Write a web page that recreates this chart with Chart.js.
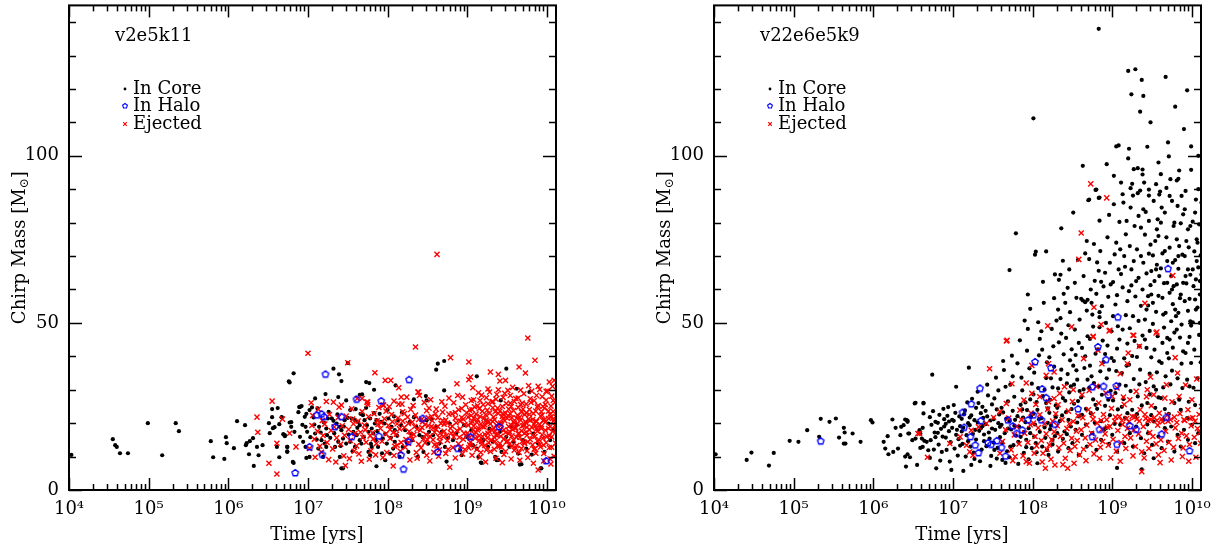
<!DOCTYPE html>
<html>
<head>
<meta charset="utf-8">
<script src="https://cdn.jsdelivr.net/npm/chart.js@4.4.0/dist/chart.umd.min.js"></script>
<style>
  html, body { margin: 0; padding: 0; background: #fff; width: 1217px; height: 548px; overflow: hidden; }
  .panel { position: absolute; top: 0; width: 572px; height: 548px; }
</style>
</head>
<body>
<div class="panel" style="left:0"><canvas id="left" width="572" height="548"></canvas></div>
<div class="panel" style="left:645px"><canvas id="right" width="572" height="548"></canvas></div>
<script>
// tick values / labels
const xTickValues = [1e4, 1e5, 1e6, 1e7, 1e8, 1e9, 1e10];
const xTickLabels = ['10⁴', '10⁵', '10⁶', '10⁷', '10⁸', '10⁹', '10¹⁰'];
const yTickValues = [0, 50, 100];
const legendNames = ['In Core', 'In Halo', 'Ejected'];

// points are [log10(time / yrs), chirp mass]
const leftCore = [
  [4.03,10.5],[4.55,15.2],[4.58,13.4],[4.60,12.9],[4.64,11.0],[4.74,11.0],[4.99,20.0],[5.17,10.4],[5.34,20.0],[5.38,17.6],
  [5.78,14.6],[5.81,9.8],[5.95,9.3],[5.97,15.8],[5.98,14.0],[6.07,12.5],[6.11,20.6],[6.21,19.4],[6.22,13.4],[6.23,14.0],
  [6.27,14.6],[6.26,10.7],[6.31,15.5],[6.32,7.2],[6.36,12.9],[6.38,10.4],[6.43,13.4],[6.51,20.0],[6.52,17.0],[6.55,24.2],
  [6.55,21.8],[6.56,18.5],[6.58,18.8],[6.62,24.5],[6.61,12.9],[6.64,19.7],[6.64,9.8],[6.67,21.8],[6.69,16.7],[6.71,16.1],
  [6.74,11.6],[6.74,12.9],[6.79,20.3],[6.77,32.2],[6.81,8.4],[6.88,23.3],[6.89,24.8],[6.76,32.5],[6.82,34.9],
  [7.50,38.0],[7.32,36.3],[7.39,34.6],[7.42,32.6],[7.22,28.7],[7.09,27.4],[7.38,27.8],[7.48,26.8],[7.65,28.5],[7.68,28.6],
  [7.73,32.3],[7.77,32.0],[7.83,30.0],[8.10,31.3],[8.61,36.0],[8.63,37.8],[8.71,38.6],[8.71,29.8],[9.12,34.0],[9.49,36.3],
  [9.62,30.3],[9.78,29.3],[9.42,26.8],[8.33,27.1],[8.48,28.1],[8.49,26.8],[6.90,24.9],[7.42,6.5],[7.86,7.1],[9.18,8.1],
  [9.66,7.6],[9.92,6.5],[9.37,8.9],[8.38,9.9],[8.15,9.9],[8.74,8.5],[9.17,8.2],[9.39,9.0],[9.68,7.7],[9.93,6.5],
  [6.67,21.7],[6.71,16.4],[6.74,12.9],[6.74,11.4],[6.77,20.2],[6.82,8.1],[6.79,18.9],[6.83,17.4],
  [6.90,24.9],[6.92,25.1],[6.96,21.9],[6.97,18.9],[6.99,17.4],[7.02,23.9],[7.05,24.7],[7.02,9.9],[6.98,9.6],[6.94,14.4],[6.97,12.9],[6.90,15.9],
  [7.07,21.7],[7.14,18.9],[7.09,16.9],[7.11,15.1],[7.17,14.9],[7.21,13.9],[7.24,16.4],[7.23,18.4],[7.25,21.4],[7.19,9.9],[7.23,12.9],[7.13,12.4],
  [7.30,21.4],[7.32,20.7],[7.36,19.9],[7.40,18.9],[7.42,17.9],[7.44,15.4],[7.38,14.4],[7.34,12.9],[7.46,20.9],[7.40,9.9],[7.44,6.5],[7.48,13.9],
  [7.53,23.9],[7.55,21.4],[7.59,20.9],[7.63,20.4],[7.65,19.4],[7.57,17.4],[7.61,16.4],[7.65,14.9],[7.67,13.9],[7.53,14.4],[7.59,12.9],[7.69,22.4],
  [7.71,20.9],[7.74,19.4],[7.78,21.4],[7.80,18.4],[7.84,19.9],[7.86,20.9],[7.82,16.9],[7.85,14.9],[7.80,12.9],[7.76,11.4],[7.88,12.9],[7.78,10.4],
  [7.92,20.4],[7.96,19.9],[8.01,21.4],[8.05,18.9],[8.09,17.9],[7.94,15.4],[7.99,13.9],[8.07,12.4],[8.09,14.4],[8.03,10.9],[7.97,8.9],
  [8.13,20.9],[8.17,19.4],[8.22,17.9],[8.28,20.4],[8.30,16.9],[8.19,12.9],[8.26,11.4],[8.31,14.9],
  [8.36,18.9],[8.40,16.4],[8.49,20.9],[8.51,13.9],[8.45,11.4],[8.52,17.4],
  [8.57,16.4],[8.65,13.9],[8.72,12.9],[8.61,18.9],[8.68,17.4],
  [8.82,14.9],[8.91,11.9],[8.78,19.9],[8.86,16.9],[8.93,10.4],
  [8.99,15.9],[9.07,13.4],[9.12,12.4],[9.14,9.9],[9.05,17.9],
  [9.20,14.9],[9.26,12.9],[9.32,14.4],[9.28,18.4],[9.35,9.9],
  [9.43,11.4],[9.49,15.9],[9.53,12.9],[9.41,17.4],[9.55,18.9],
  [9.64,10.9],[9.70,14.9],[9.74,12.4],[9.62,19.4],
  [9.83,16.9],[9.89,13.9],[9.97,11.4],[10.04,14.9],[10.08,17.9],[10.02,19.9],
  [6.93,19.5],[6.98,22.8],[7.03,15.8],[7.08,19.6],[7.12,24.4],[7.16,17.2],[7.20,20.2],[7.26,23.4],[7.28,15.6],[7.33,17.0],
  [7.37,22.6],[7.41,13.2],[7.45,19.0],[7.50,21.6],[7.51,16.6],[7.56,11.6],[7.60,24.2],[7.62,18.6],[7.66,22.8],[7.70,15.8],
  [7.73,24.6],[7.76,17.4],[7.79,13.8],[7.83,23.0],[7.87,17.6],[7.90,22.8],[7.93,11.0],[7.97,16.8],[8.00,24.0],[8.04,15.6],
  [8.08,22.0],[8.12,16.2],[8.18,23.2],[8.24,14.2],[8.33,21.8],[8.44,15.8],[8.55,21.2],[8.76,15.6],[8.96,19.4],[9.24,20.8],
  [9.58,14.4],[9.81,10.6]
];
const leftHalo = [
  [6.84,5.1],[7.22,34.6],[7.18,10.6],[7.02,12.9],[7.11,22.4],[7.17,22.7],[7.20,21.9],[7.42,21.9],[7.34,18.9],[7.55,15.9],
  [7.61,27.1],[7.92,26.6],[7.89,16.1],[8.27,33.0],[8.26,14.4],[8.17,10.4],[8.20,6.2],[8.44,21.4],[8.63,11.4],[8.88,12.4],
  [9.04,15.9],[9.40,18.9],[9.99,8.7]
];
const leftEjected = [
  [6.36,21.8],[6.37,17.3],[6.55,26.6],[6.51,8.0],[6.61,4.8],[6.61,14.0],[6.68,21.2],[6.77,17.0],[6.85,12.9],[7.00,40.9],
  [8.62,70.5],[7.50,38.1],[8.14,25.7],[7.94,25.4],[7.68,27.4],[7.75,26.3],[8.39,29.3],
  [7.02,12.4],[7.05,19.3],[7.08,15.2],[7.04,26.1],[7.09,9.8],[7.06,22.3],
  [7.12,17.6],[7.15,13.1],[7.18,20.8],[7.13,24.2],[7.17,11.3],[7.19,16.3],
  [7.21,19.7],[7.24,14.2],[7.27,22.6],[7.26,9.1],[7.29,17.8],[7.23,26.5],
  [7.31,12.3],[7.33,18.9],[7.36,15.6],[7.38,21.7],[7.35,8.4],[7.39,24.8],[7.32,26.3],
  [7.41,13.7],[7.43,19.2],[7.46,16.4],[7.48,22.1],[7.45,10.2],[7.47,7.3],[7.42,25.4],
  [7.51,18.1],[7.53,14.8],[7.56,21.2],[7.58,11.6],[7.55,24.3],[7.59,16.9],[7.52,9.4],[7.57,19.8],
  [7.61,13.2],[7.63,20.6],[7.66,17.3],[7.68,23.5],[7.64,10.8],[7.69,15.7],[7.62,27.4],[7.67,8.6],
  [7.71,19.4],[7.73,14.3],[7.76,21.9],[7.78,16.2],[7.75,25.6],[7.79,11.7],[7.72,18.0],[7.77,9.2],[7.74,26.3],
  [7.81,17.1],[7.83,22.8],[7.86,13.9],[7.88,19.6],[7.85,10.5],[7.89,24.7],[7.82,15.3],[7.87,20.7],[7.84,35.1],
  [7.91,18.4],[7.93,14.6],[7.96,21.3],[7.98,16.8],[7.95,25.4],[7.99,11.2],[7.92,20.1],[7.97,32.8],[7.94,9.7],[7.98,23.6],
  [8.01,19.3],[8.03,15.4],[8.05,22.6],[8.07,17.2],[8.09,13.1],[8.02,24.9],[8.06,20.4],[8.08,10.3],[8.04,32.8],[8.08,26.6],[8.07,7.2],[8.03,18.1],
  [8.11,16.7],[8.13,21.5],[8.15,18.3],[8.17,14.2],[8.19,23.4],[8.12,19.8],[8.16,11.6],[8.18,25.7],[8.14,30.6],[8.19,20.6],[8.12,13.4],[8.17,27.8],
  [8.21,18.7],[8.23,15.1],[8.25,21.8],[8.27,17.5],[8.29,24.1],[8.22,12.8],[8.26,19.9],[8.28,9.0],[8.24,27.8],[8.29,16.2],[8.21,22.9],[8.26,14.0],
  [8.31,20.3],[8.33,16.6],[8.35,22.4],[8.37,18.2],[8.39,13.7],[8.32,25.3],[8.36,11.2],[8.38,29.3],[8.35,42.8],[8.34,19.0],[8.39,21.1],[8.31,15.2],[8.37,9.5],
  [8.41,17.9],[8.43,21.2],[8.45,15.3],[8.47,19.5],[8.49,23.7],[8.42,12.6],[8.46,26.2],[8.48,16.6],[8.40,28.3],[8.44,20.4],[8.49,10.4],[8.43,18.7],[8.47,14.1],
  [8.51,19.2],[8.53,16.1],[8.55,22.0],[8.57,18.6],[8.59,13.5],[8.52,24.5],[8.56,20.7],[8.58,11.3],[8.54,27.0],[8.59,17.3],[8.51,21.6],[8.57,15.0],[8.53,8.7],
  [8.61,18.1],[8.63,21.6],[8.65,15.7],[8.67,19.9],[8.69,23.3],[8.62,13.2],[8.66,17.0],[8.68,26.4],[8.64,10.1],[8.69,20.8],[8.61,24.2],[8.66,14.5],[8.63,19.0],
  [8.71,17.6],[8.73,20.9],[8.75,14.8],[8.77,22.7],[8.79,18.4],[8.72,25.1],[8.76,12.2],[8.78,6.8],[8.79,39.6],[8.74,16.3],[8.71,19.7],[8.77,27.5],[8.73,10.9],
  [8.81,19.1],[8.83,15.9],[8.85,21.5],[8.87,17.8],[8.89,24.0],[8.82,12.7],[8.86,20.1],[8.88,28.3],[8.87,31.8],[8.84,16.9],[8.89,13.8],[8.81,22.8],[8.85,9.6],[8.83,26.1],
  [8.91,18.3],[8.93,21.7],[8.94,27.8],[8.95,15.2],[8.97,19.6],[8.99,23.1],[8.92,13.0],[8.96,17.0],[8.98,25.5],[8.94,10.8],[8.99,16.1],[8.91,20.6],[8.97,12.1],[8.93,24.4],
  [9.01,19.4],[9.02,33.0],[9.04,33.8],[9.02,38.3],[9.03,15.8],[9.05,22.3],[9.07,18.0],[9.09,24.9],[9.02,12.6],[9.06,20.6],[9.08,27.0],[9.05,26.8],[9.07,30.6],[9.04,14.3],[9.09,16.7],[9.01,21.8],[9.06,10.4],[9.08,19.1],[9.03,23.9],[9.09,12.9],
  [9.11,17.3],[9.13,21.0],[9.15,14.8],[9.16,26.8],[9.17,19.8],[9.19,23.6],[9.12,12.1],[9.14,18.5],[9.18,28.4],[9.13,25.2],[9.19,16.0],[9.11,22.7],[9.16,9.8],[9.18,13.6],[9.12,20.2],[9.15,24.3],[9.17,11.2],[9.14,29.1],[9.19,19.0],
  [9.21,18.9],[9.23,22.5],[9.25,15.6],[9.27,20.3],[9.28,29.3],[9.29,35.3],[9.22,13.3],[9.26,25.8],[9.28,17.4],[9.24,27.6],[9.29,11.5],[9.21,21.4],[9.25,23.9],[9.27,14.1],[9.23,8.4],[9.29,19.8],[9.22,16.7],[9.26,30.2],[9.24,20.9],
  [9.31,17.9],[9.33,21.8],[9.35,14.5],[9.37,19.3],[9.39,34.6],[9.39,30.0],[9.32,24.6],[9.36,27.2],[9.38,16.4],[9.34,12.2],[9.39,22.9],[9.31,26.3],[9.36,9.5],[9.33,18.6],[9.38,13.2],[9.35,23.4],[9.37,28.6],[9.32,20.5],[9.34,15.7],[9.39,19.9],
  [9.41,32.6],[9.42,18.2],[9.44,22.0],[9.46,15.3],[9.48,32.8],[9.47,20.7],[9.49,25.9],[9.43,12.8],[9.45,27.7],[9.48,17.2],[9.41,23.6],[9.46,10.6],[9.49,14.4],[9.43,19.5],[9.45,21.3],[9.47,28.9],[9.42,16.1],[9.44,8.2],[9.48,23.0],[9.41,13.9],
  [9.51,29.8],[9.52,19.0],[9.54,22.8],[9.56,16.2],[9.58,20.4],[9.59,26.5],[9.53,13.7],[9.55,25.0],[9.57,18.1],[9.51,14.6],[9.59,11.9],[9.54,28.3],[9.56,21.6],[9.58,15.0],[9.52,24.2],[9.55,9.3],[9.57,30.7],[9.53,17.5],[9.59,20.0],[9.51,22.2],
  [9.61,18.6],[9.63,22.4],[9.65,36.8],[9.66,15.8],[9.67,20.9],[9.69,26.0],[9.62,13.3],[9.64,24.7],[9.68,17.7],[9.61,27.4],[9.65,11.2],[9.69,14.5],[9.63,19.9],[9.67,29.9],[9.62,21.5],[9.66,8.9],[9.68,23.3],[9.64,16.8],[9.69,19.2],[9.61,12.6],[9.67,25.6],
  [9.71,19.3],[9.73,35.0],[9.74,23.0],[9.75,16.4],[9.76,45.5],[9.77,21.2],[9.79,27.3],[9.72,13.9],[9.74,25.7],[9.78,18.0],[9.71,28.8],[9.75,11.7],[9.79,15.1],[9.73,20.4],[9.77,31.2],[9.72,22.6],[9.76,9.7],[9.78,24.1],[9.74,17.3],[9.79,20.8],[9.71,14.2],
  [9.81,18.8],[9.83,22.9],[9.85,38.8],[9.85,16.0],[9.87,28.3],[9.87,20.5],[9.89,25.3],[9.82,13.5],[9.84,26.7],[9.88,17.6],[9.81,29.6],[9.86,11.0],[9.89,6.0],[9.83,8.0],[9.88,14.7],[9.84,19.7],[9.86,23.6],[9.82,21.1],[9.89,31.0],[9.85,12.4],[9.87,18.3],
  [9.91,19.6],[9.93,23.4],[9.95,15.5],[9.97,21.0],[9.99,26.9],[9.92,12.9],[9.94,27.9],[9.98,17.9],[9.91,30.1],[9.96,10.9],[9.99,14.2],[9.93,18.4],[9.97,24.5],[9.92,22.1],[9.96,8.7],[9.98,20.3],[9.94,16.5],[9.99,29.5],[9.91,13.6],[9.95,25.0],
  [10.01,29.6],[10.03,32.3],[10.09,32.8],[10.02,18.4],[10.04,22.7],[10.06,15.9],[10.08,20.6],[10.10,26.2],[10.03,12.7],[10.05,25.1],[10.07,17.5],[10.09,10.1],[10.11,14.0],[10.02,21.4],[10.06,28.1],[10.08,23.5],[10.04,9.3],[10.10,19.3],[10.03,16.2],[10.07,31.0],[10.11,22.0],[10.05,7.8],
  [9.00,17.0],[9.03,13.5],[9.06,24.0],[9.08,21.5],[9.10,15.5],[9.13,18.0],[9.16,22.0],[9.18,14.5],[9.20,25.5],[9.22,19.5],
  [9.24,12.0],[9.26,17.0],[9.28,23.0],[9.30,15.0],[9.32,26.5],[9.34,21.0],[9.36,16.5],[9.38,24.5],[9.40,13.0],[9.42,20.0],
  [9.44,25.0],[9.46,18.0],[9.48,11.5],[9.50,21.5],[9.52,16.8],[9.54,26.0],[9.56,13.2],[9.58,23.8],[9.60,18.4],[9.62,15.8],
  [9.64,27.5],[9.66,21.8],[9.68,12.4],[9.70,24.2],[9.72,17.0],[9.74,20.0],[9.76,14.4],[9.78,22.6],[9.80,26.2],[9.82,16.4],
  [9.84,12.2],[9.86,20.6],[9.88,24.8],[9.90,15.0],[9.92,18.8],[9.94,22.4],[9.96,13.4],[9.98,25.6],[10.00,16.0],[10.02,23.6],
  [10.04,19.0],[10.06,12.8],[10.08,26.8],[10.10,21.0],[10.12,18.0],[9.05,20.0],[9.15,16.2],[9.25,20.4],[9.35,17.6],[9.45,22.8],
  [9.55,19.4],[9.65,17.0],[9.75,18.8],[9.85,19.0],[9.95,20.8],[10.05,21.8],
  [8.50,15.0],[8.55,19.0],[8.60,22.8],[8.65,12.0],[8.70,16.0],[8.75,20.0],[8.80,17.0],[8.85,23.2],[8.90,15.8],[8.95,21.2]
];

const rightCore = [
  [4.02,10.7],[4.41,9.0],[4.47,11.2],[4.69,7.3],[4.75,11.1],[4.95,14.7],[5.06,14.4],[5.17,17.9],[5.32,15.9],[5.34,21.3],
  [5.45,20.4],[5.53,21.4],[5.57,15.7],[5.63,18.6],[5.64,17.2],[5.63,13.9],[5.65,13.9],[5.74,16.9],[5.84,14.4],[5.97,20.9],
  [5.99,20.2],[6.13,14.4],[6.15,12.4],[6.19,10.7],[6.18,16.1],[6.24,21.1],[6.25,11.4],[6.28,18.6],[6.31,12.4],[6.34,16.4],
  [6.38,19.4],[6.42,20.9],[6.43,20.4],[6.44,16.9],[6.43,10.7],[6.46,9.8],[6.41,7.0],[6.49,14.9],[6.52,25.9],[6.55,7.5],
  [6.59,16.9],[6.62,18.6],[6.63,22.9],[6.63,25.9],[6.61,15.4],[6.64,14.7],[6.62,12.9],[6.59,12.6],[6.67,14.4],[6.69,11.9],
  [6.40,21.1],[6.43,20.7],[6.35,18.9],[6.45,16.9],[6.40,10.0],[6.53,26.1],[6.63,26.1],[6.58,17.9],[6.53,15.4],
  [8.83,138.0],[9.20,125.4],[9.29,125.9],[9.37,122.7],[9.67,123.6],[9.24,118.4],[9.39,117.9],[9.94,119.6],[9.35,113.2],[9.79,114.7],
  [8.01,111.2],[9.05,102.8],[9.08,103.1],[9.21,102.1],[9.44,102.7],[9.99,102.8],[9.20,99.2],[9.71,99.8],[8.63,97.0],[8.93,97.5],
  [9.32,96.3],[9.38,95.9],[9.38,94.4],[9.84,95.6],[9.83,93.1],[9.81,92.6],[9.99,95.8],[9.25,91.6],[9.23,90.3],[9.35,89.6],
  [9.32,88.8],[9.26,88.1],[9.55,91.5],[9.46,89.9],[9.46,88.1],[9.60,89.3],[9.59,88.4],[9.68,90.4],[10.05,86.9],[8.80,89.9],
  [8.71,86.9],[8.83,87.4],
  [6.71,21.8],[6.73,19.5],[6.75,23.6],[6.77,17.2],[6.78,20.4],[6.72,14.9],[6.76,12.1],[6.79,6.5],[6.74,34.5],[6.78,15.8],[6.71,9.6],
  [6.81,20.1],[6.83,22.5],[6.85,18.3],[6.87,16.0],[6.89,21.2],[6.82,13.6],[6.86,11.4],[6.88,24.3],[6.84,8.8],[6.89,19.0],[6.81,17.1],
  [6.91,19.8],[6.93,22.2],[6.95,17.6],[6.97,14.3],[6.99,21.0],[6.92,12.0],[6.96,8.5],[6.98,6.0],[6.94,24.8],[6.99,18.6],[6.91,15.7],[6.95,20.5],
  [7.01,20.7],[7.03,23.1],[7.04,30.9],[7.05,18.0],[7.07,15.2],[7.09,19.1],[7.02,12.4],[7.06,10.3],[7.08,22.0],[7.04,16.5],[7.09,13.3],[7.01,25.4],
  [7.11,21.3],[7.13,18.6],[7.15,23.8],[7.17,16.4],[7.19,20.0],[7.12,13.8],[7.16,10.0],[7.18,26.2],[7.13,5.7],[7.19,14.6],[7.14,22.7],[7.20,36.6],[7.11,17.5],
  [7.21,19.4],[7.23,22.3],[7.25,16.8],[7.27,20.9],[7.29,24.6],[7.22,13.0],[7.26,11.2],[7.28,18.0],[7.23,7.5],[7.24,27.3],[7.29,15.1],[7.21,21.7],[7.27,9.3],
  [7.31,20.2],[7.33,17.7],[7.35,23.0],[7.37,19.1],[7.39,14.6],[7.32,26.0],[7.36,12.1],[7.38,21.6],[7.34,8.6],[7.39,16.6],[7.31,29.4],[7.35,18.5],[7.37,24.9],
  [7.41,19.7],[7.43,22.0],[7.45,17.2],[7.47,20.8],[7.49,25.6],[7.42,13.1],[7.46,15.4],[7.48,10.2],[7.44,28.3],[7.49,18.4],[7.41,23.7],[7.47,7.2],[7.43,31.5],
  [7.51,21.2],[7.53,18.0],[7.55,24.1],[7.57,20.0],[7.59,15.8],[7.52,27.4],[7.56,12.6],[7.58,22.6],[7.54,33.6],[7.59,18.9],[7.51,14.2],[7.55,9.4],[7.57,29.8],
  [7.61,19.5],[7.63,23.2],[7.65,17.0],[7.67,21.4],[7.69,26.5],[7.62,14.1],[7.66,30.9],[7.68,11.6],[7.64,35.9],[7.69,18.4],[7.61,24.6],[7.66,8.1],[7.63,38.6],
  [7.71,20.6],[7.71,65.8],[7.73,18.1],[7.75,23.7],[7.77,27.9],[7.79,16.3],[7.72,31.5],[7.76,13.4],[7.78,21.0],[7.74,40.2],[7.79,76.8],[7.71,9.8],[7.75,34.0],[7.77,19.2],
  [7.81,22.1],[7.83,19.0],[7.85,25.5],[7.87,29.8],[7.89,17.3],[7.82,14.4],[7.86,33.6],[7.88,21.7],[7.84,44.8],[7.89,11.1],[7.81,37.9],[7.85,15.9],[7.87,24.1],[7.90,50.7],
  [7.91,20.3],[7.93,23.9],[7.94,58.5],[7.94,48.2],[7.95,18.5],[7.97,54.2],[7.97,27.1],[7.99,31.8],[7.92,15.0],[7.96,36.4],[7.98,21.9],[7.93,41.7],[7.99,12.5],[7.91,26.2],[7.95,9.2],[7.97,17.0],
  [8.01,22.8],[8.03,70.4],[8.04,71.3],[8.03,19.6],[8.05,26.3],[8.07,50.2],[8.07,30.5],[8.09,17.4],[8.02,35.1],[8.06,24.0],[8.08,40.3],[8.04,14.0],[8.09,45.2],[8.01,28.6],[8.05,11.3],[8.08,21.2],
  [8.11,21.5],[8.13,28.1],[8.15,18.7],[8.17,71.4],[8.17,33.5],[8.19,24.4],[8.12,42.0],[8.16,15.6],[8.18,38.2],[8.14,56.0],[8.19,20.1],[8.11,47.5],[8.15,30.0],[8.18,12.0],[8.13,62.3],[8.17,26.0],
  [8.21,23.1],[8.23,19.3],[8.24,48.2],[8.25,30.7],[8.27,36.9],[8.29,21.8],[8.22,27.0],[8.26,43.0],[8.28,16.1],[8.30,50.7],[8.23,33.4],[8.27,57.4],[8.29,25.3],[8.21,39.7],[8.25,13.6],[8.28,64.5],[8.22,18.2],
  [8.31,24.6],[8.33,62.9],[8.35,64.4],[8.35,51.4],[8.36,78.3],[8.38,68.6],[8.39,58.7],[8.32,30.4],[8.34,20.6],[8.36,36.0],[8.38,27.5],[8.33,44.2],[8.37,22.3],[8.39,40.6],[8.31,17.0],[8.35,33.2],[8.38,15.3],[8.32,54.0],[8.36,46.8],
  [8.41,26.7],[8.44,60.5],[8.43,31.9],[8.45,21.0],[8.47,53.2],[8.47,38.8],[8.49,24.2],[8.42,45.5],[8.46,29.2],[8.48,19.0],[8.41,56.0],[8.44,34.7],[8.49,42.1],[8.43,16.7],[8.46,66.0],[8.48,31.0],[8.45,49.3],[8.42,23.3],
  [8.51,83.0],[8.52,25.8],[8.54,40.4],[8.56,33.0],[8.58,22.0],[8.57,68.9],[8.53,48.0],[8.55,57.5],[8.59,29.6],[8.51,37.2],[8.56,20.2],[8.58,44.0],[8.53,62.0],[8.54,18.0],[8.59,51.0],[8.52,31.5],[8.57,26.6],[8.55,35.8],
  [8.61,57.2],[8.63,56.7],[8.66,70.8],[8.66,56.2],[8.69,56.9],[8.68,53.7],[8.62,42.5],[8.64,30.1],[8.67,24.3],[8.65,36.5],[8.69,46.0],[8.61,27.7],[8.64,64.0],[8.67,19.6],[8.69,33.0],[8.62,22.5],[8.66,40.0],[8.68,74.5],
  [8.70,86.7],[8.71,69.1],[8.73,60.0],[8.75,52.5],[8.77,73.6],[8.79,89.8],[8.72,45.2],[8.74,34.0],[8.76,27.1],[8.78,62.6],[8.79,40.8],[8.71,30.6],[8.73,23.0],[8.76,48.9],[8.78,20.1],[8.74,56.0],[8.72,37.2],[8.77,32.0],[8.79,25.5],
  [8.81,68.1],[8.83,65.6],[8.84,80.6],[8.84,87.5],[8.84,53.2],[8.84,51.7],[8.84,48.7],[8.86,62.3],[8.80,58.7],[8.89,60.9],[8.82,42.1],[8.85,35.5],[8.87,28.5],[8.81,24.3],[8.88,44.7],[8.86,20.6],[8.83,31.0],[8.89,38.3],[8.85,71.5],[8.87,55.0],
  [8.94,75.6],[8.96,82.3],[8.91,65.0],[8.92,50.0],[8.94,43.2],[8.96,36.0],[8.98,29.7],[8.91,25.2],[8.95,57.8],[8.97,68.0],[8.99,47.5],[8.93,33.4],[8.97,22.4],[8.99,39.5],[8.92,18.5],[8.95,27.0],[8.98,61.5],[8.91,40.7],
  [9.01,62.2],[9.03,70.5],[9.06,58.3],[9.09,45.0],[9.02,38.6],[9.04,29.0],[9.07,24.1],[9.09,80.2],[9.01,52.0],[9.05,35.6],[9.08,66.0],[9.03,19.8],[9.06,42.3],[9.02,85.5],[9.09,31.5],[9.04,55.5],[9.07,49.0],[9.01,26.8],[9.05,74.0],
  [9.11,92.0],[9.13,60.6],[9.15,70.0],[9.17,52.3],[9.19,43.8],[9.12,35.0],[9.14,27.2],[9.16,21.6],[9.18,80.5],[9.11,64.6],[9.15,39.4],[9.19,56.5],[9.13,48.0],[9.17,31.2],[9.12,24.9],[9.16,66.8],[9.18,37.2],[9.14,86.0],[9.19,23.0],
  [9.22,73.0],[9.24,61.2],[9.26,52.0],[9.28,44.6],[9.21,37.5],[9.23,29.6],[9.25,24.0],[9.27,68.5],[9.29,57.9],[9.22,48.4],[9.27,33.2],[9.28,79.0],[9.21,59.5],[9.25,40.1],[9.29,21.8],[9.23,84.5],
  [9.31,72.0],[9.33,63.5],[9.36,55.1],[9.38,46.2],[9.31,39.8],[9.34,31.6],[9.37,25.3],[9.39,68.0],[9.33,50.6],[9.36,78.5],[9.31,22.7],[9.35,36.0],[9.38,60.0],[9.34,43.0],[9.39,84.0],[9.32,28.0],
  [9.41,76.4],[9.43,64.8],[9.45,55.2],[9.47,47.6],[9.49,39.7],[9.42,32.3],[9.44,26.0],[9.46,70.7],[9.48,61.3],[9.41,51.0],[9.43,42.5],[9.47,34.8],[9.49,22.4],[9.42,83.2],[9.45,58.0],[9.48,73.4],[9.44,19.6],[9.47,28.6],[9.49,65.5],[9.41,45.0],
  [9.56,78.0],[9.51,70.2],[9.53,62.5],[9.55,53.3],[9.57,46.0],[9.59,38.5],[9.52,31.0],[9.54,24.6],[9.56,67.4],[9.58,58.1],[9.51,49.7],[9.53,42.0],[9.57,81.0],[9.52,20.5],[9.56,35.2],[9.58,27.7],[9.54,74.5],[9.59,64.0],[9.51,56.0],[9.55,30.0],
  [9.61,80.0],[9.63,70.8],[9.65,61.9],[9.67,53.0],[9.69,45.5],[9.62,38.0],[9.64,30.7],[9.66,24.2],[9.68,75.6],[9.61,66.3],[9.63,57.5],[9.65,48.6],[9.69,41.0],[9.62,84.5],[9.64,21.0],[9.67,34.0],[9.69,62.0],[9.66,71.5],[9.61,27.5],[9.63,44.0],
  [9.72,72.5],[9.74,64.0],[9.76,55.6],[9.78,47.1],[9.71,39.4],[9.73,31.6],[9.75,86.5],[9.77,79.0],[9.79,68.8],[9.72,59.0],[9.74,50.5],[9.76,42.6],[9.78,26.0],[9.71,22.8],[9.75,35.7],[9.73,93.0],[9.77,61.0],[9.79,54.0],[9.72,45.0],[9.76,68.0],
  [9.81,75.0],[9.83,66.2],[9.85,57.4],[9.87,49.5],[9.89,41.5],[9.82,33.4],[9.84,27.0],[9.86,79.8],[9.88,70.4],[9.81,61.5],[9.83,53.0],[9.85,45.6],[9.87,37.8],[9.89,62.0],[9.82,85.0],[9.86,24.0],[9.88,30.5],[9.84,73.0],[9.87,88.0],[9.81,48.0],
  [9.91,84.0],[9.93,74.5],[9.95,66.0],[9.97,57.2],[9.99,49.2],[9.92,41.0],[9.94,33.0],[9.96,26.4],[9.98,79.0],[9.91,70.0],[9.93,61.8],[9.95,53.6],[9.97,45.8],[9.99,38.0],[9.92,89.5],[9.96,72.6],[9.98,64.4],[9.94,21.5],[9.97,31.0],[9.91,56.5],[9.95,44.0],
  [10.01,80.3],[10.03,71.4],[10.05,63.0],[10.07,54.6],[10.09,46.4],[10.11,38.2],[10.02,30.6],[10.04,83.0],[10.06,75.0],[10.08,66.6],[10.10,58.5],[10.01,50.2],[10.03,42.0],[10.06,68.5],[10.09,79.5],[10.11,70.2],[10.02,61.0],[10.04,25.4],[10.07,33.4],[10.10,62.5],[10.05,54.0],[10.08,90.0],[10.12,86.0],
  [7.52,12.0],[7.62,9.0],[7.72,13.0],[7.82,7.8],[7.92,12.8],[8.02,16.0],[8.06,8.0],[8.12,13.0],[8.20,10.5],[8.25,15.0],
  [8.32,11.5],[8.40,17.5],[8.45,12.5],[8.50,14.0],[8.58,10.5],[8.62,16.5],[8.68,13.0],[8.75,17.0],[8.80,12.0],[8.86,15.0],
  [8.90,18.0],[8.96,13.8],[9.00,16.5],[9.06,11.5],[9.10,19.5],[9.15,14.0],[9.22,17.0],[9.26,13.0],[9.30,19.0],[9.36,15.5],
  [9.40,11.0],[9.45,17.0],[9.50,13.5],[9.52,9.5],[9.58,16.0],[9.62,12.5],[9.66,18.5],[9.70,14.5],[9.74,19.0],[9.78,11.5],
  [9.82,16.5],[9.86,13.0],[9.90,18.0],[9.95,15.0],[10.00,19.5],[10.04,14.0],[10.08,17.0],[9.37,6.2],[9.06,6.6],
  [9.02,94.0],[9.10,72.0],[9.13,88.5],[9.17,76.5],[9.24,66.0],[9.27,96.0],[9.30,62.5],[9.33,82.0],[9.36,70.0],[9.40,92.0],
  [9.43,54.0],[9.46,80.5],[9.49,58.5],[9.52,86.5],[9.55,66.0],[9.58,76.0],[9.61,94.5],[9.64,52.5],[9.66,83.0],[9.69,68.5],
  [9.72,88.0],[9.75,60.0],[9.78,80.0],[9.80,52.0],[9.83,70.0],[9.86,58.5],[9.89,82.5],[9.92,64.0],[9.95,78.0],[9.98,50.5],
  [10.01,66.0],[10.04,57.0],[10.07,74.0],[10.10,50.0],[10.12,64.5],[9.70,104.0],[9.48,110.0],[9.90,108.0],[9.58,98.0],[10.08,100.0]
];
const rightHalo = [
  [5.34,14.6],[7.34,30.4],[7.23,25.7],[7.12,23.2],[7.14,18.7],[7.22,15.9],[7.35,20.7],[7.44,14.1],[7.48,13.6],[7.55,14.7],
  [7.61,12.7],[7.66,10.1],[7.32,11.1],[7.28,13.4],[7.69,20.9],[7.75,19.1],[7.80,16.9],[7.87,17.9],[7.94,20.9],[8.03,38.3],
  [8.23,36.5],[8.12,30.2],[8.17,27.6],[8.11,20.9],[8.01,22.4],[8.28,19.6],[8.57,24.2],[8.75,30.8],[8.82,42.8],[8.92,39.0],
  [8.89,31.0],[9.05,31.1],[8.95,28.4],[8.75,15.9],[8.84,18.1],[9.06,13.6],[9.22,19.2],[9.30,18.1],[9.62,16.7],[9.68,21.7],
  [9.97,11.7],[9.70,66.2],[9.07,51.7]
];
const rightEjected = [
  [6.56,16.9],[6.68,9.8],[6.58,16.9],[6.96,13.9],[7.09,15.9],[7.17,13.4],[7.21,11.4],[7.25,10.4],[7.23,17.9],[7.32,18.9],
  [7.42,19.9],[7.46,36.3],[7.51,21.7],[7.59,23.4],[7.59,11.0],[7.67,25.9],[7.67,44.6],[7.68,44.8],[7.74,31.8],[7.78,10.0],
  [7.84,23.9],[7.89,26.9],[7.92,32.0],[7.92,8.5],[7.96,8.0],[7.99,37.3],[7.99,28.9],[8.02,11.0],[8.09,27.9],[8.16,6.5],
  [8.17,34.3],[8.20,26.4],[8.20,37.8],[8.27,27.4],[8.27,35.3],[8.34,28.9],[8.40,30.9],[8.51,30.0],[8.64,39.3],[8.76,45.8],
  [8.82,41.8],[8.87,37.8],[8.97,47.8],[9.10,34.8],[9.19,37.8],[9.20,41.0],[9.26,46.3],[9.34,43.0],[9.48,33.8],[9.43,27.9],
  [9.56,47.3],[9.79,39.6],[8.73,91.6],[8.93,87.4],[8.58,69.0],[8.61,76.9],[8.77,54.7],[9.41,55.9],[8.86,49.5],[8.96,47.6],
  [8.19,49.1],[8.49,48.8],[8.76,46.0],[9.27,46.3],[9.55,47.0],[9.76,64.2],
  [7.62,14.5],[7.66,18.0],[7.70,21.5],[7.73,12.0],[7.77,16.5],[7.80,19.0],[7.83,13.8],[7.86,21.0],[7.90,17.0],[7.94,14.2],[7.97,19.5],[7.98,23.0],[7.88,10.2],[7.75,8.8],
  [8.01,20.0],[8.03,16.0],[8.05,13.2],[8.07,18.6],[8.09,22.5],[8.11,14.8],[8.13,11.0],[8.15,19.8],[8.17,16.8],[8.19,24.2],[8.21,13.5],[8.23,9.2],[8.25,20.6],[8.27,17.4],[8.29,22.8],[8.04,25.6],[8.12,8.4],[8.18,12.2],[8.24,15.0],[8.28,7.5],
  [8.31,19.2],[8.33,12.6],[8.35,16.0],[8.37,21.0],[8.39,14.0],[8.41,9.5],[8.43,18.4],[8.45,23.6],[8.47,11.8],[8.49,15.5],[8.51,20.5],[8.53,13.0],[8.55,17.6],[8.57,22.2],[8.59,10.5],[8.32,25.5],[8.38,7.6],[8.44,6.5],[8.50,26.5],[8.56,14.8],[8.46,19.8],[8.52,8.0],
  [8.61,18.0],[8.63,21.6],[8.64,12.2],[8.66,15.6],[8.68,19.4],[8.70,24.0],[8.72,13.6],[8.74,17.0],[8.76,21.2],[8.77,10.8],[8.79,15.0],[8.81,20.0],[8.83,26.0],[8.85,12.8],[8.87,18.2],[8.89,22.6],[8.62,28.5],[8.71,29.8],[8.80,31.0],[8.88,14.5],[8.67,8.8],[8.84,9.5],[8.75,22.5],[8.86,20.8],
  [8.91,16.8],[8.93,21.0],[8.95,13.4],[8.97,19.0],[8.99,24.4],[9.01,15.2],[9.03,20.6],[9.05,11.6],[9.07,17.8],[9.09,22.0],[9.11,14.2],[9.13,19.6],[9.15,25.6],[9.17,12.4],[9.19,18.4],[8.92,29.0],[9.00,28.0],[9.06,30.5],[9.14,27.8],[8.98,9.6],[9.10,8.6],[9.18,21.4],[9.04,21.8],[9.12,20.8],[8.94,18.8],[9.16,16.0],
  [9.21,20.4],[9.23,15.6],[9.25,22.0],[9.27,18.0],[9.29,13.0],[9.31,21.2],[9.33,16.8],[9.35,24.0],[9.37,11.4],[9.37,5.5],[9.39,19.0],[9.41,22.6],[9.43,14.6],[9.45,20.8],[9.47,17.2],[9.49,25.2],[9.22,27.0],[9.30,29.5],[9.40,9.6],[9.46,12.4],[9.26,10.2],[9.34,20.6],[9.42,21.4],[9.48,21.0],[9.28,21.8],[9.44,30.0],
  [9.51,16.0],[9.53,21.6],[9.55,13.8],[9.57,19.4],[9.59,23.0],[9.61,15.0],[9.63,20.4],[9.65,11.8],[9.67,17.6],[9.69,22.4],[9.71,14.2],[9.73,21.0],[9.75,26.4],[9.77,12.8],[9.79,18.6],[9.52,28.5],[9.60,8.2],[9.66,27.5],[9.74,9.0],[9.62,21.2],[9.70,20.6],[9.78,21.8],[9.56,20.8],[9.68,31.5],[9.58,10.5],
  [9.81,20.2],[9.83,15.4],[9.85,22.8],[9.87,17.0],[9.89,12.6],[9.91,20.8],[9.93,16.2],[9.95,24.0],[9.97,13.6],[9.99,19.2],[10.01,21.6],[10.03,15.8],[10.05,9.8],[10.07,18.4],[10.09,22.6],[10.11,14.0],[9.84,28.0],[9.92,31.4],[10.00,27.0],[10.06,33.2],[9.88,10.0],[9.96,8.6],[10.04,20.6],[10.10,17.2],[10.12,25.0],[9.82,35.0],[9.90,21.0],[9.98,21.4]
];

Chart.defaults.font.family = '"DejaVu Serif", serif';
Chart.defaults.color = '#000';

function pentagon(r, lw) {
  const s = Math.ceil(2 * r + 2 * lw + 2);
  const c = document.createElement('canvas');
  c.width = s; c.height = s;
  const g = c.getContext('2d');
  g.strokeStyle = '#0000ff';
  g.lineWidth = lw;
  g.beginPath();
  for (let i = 0; i < 5; i++) {
    const a = -Math.PI / 2 + i * 2 * Math.PI / 5;
    const px = s / 2 + r * Math.cos(a), py = s / 2 + r * Math.sin(a);
    if (i) g.lineTo(px, py); else g.moveTo(px, py);
  }
  g.closePath();
  g.stroke();
  return c;
}
const haloMark = pentagon(3.4, 1.3);
const haloLegend = pentagon(2.5, 1.1);

const toPoints = arr => arr.map(p => ({ x: Math.pow(10, p[0]), y: p[1] }));

const framePlugin = {
  id: 'frame',
  afterDraw(chart, args, opts) {
    const { ctx, chartArea: a } = chart;
    const x = chart.scales.x, y = chart.scales.y;
    const line = (x1, y1, x2, y2) => { ctx.beginPath(); ctx.moveTo(x1, y1); ctx.lineTo(x2, y2); ctx.stroke(); };
    ctx.save();
    ctx.strokeStyle = '#000';
    ctx.lineWidth = 1.5;
    for (let e = 4; e <= 10; e++) {
      for (let k = 1; k <= 9; k++) {
        const v = k * Math.pow(10, e);
        if (v > x.max) break;
        const px = Math.round(x.getPixelForValue(v)) + 0.5;
        const len = k === 1 ? 12 : 6;
        line(px, a.bottom, px, a.bottom - len);
        line(px, a.top, px, a.top + len);
      }
    }
    for (let v = 0; v <= y.max; v += 10) {
      const py = Math.round(y.getPixelForValue(v)) + 0.5;
      const len = v % 50 === 0 ? 13 : 7;
      line(a.left, py, a.left + len, py);
      line(a.right, py, a.right - len, py);
    }
    ctx.lineWidth = 2;
    ctx.strokeRect(a.left, a.top, a.right - a.left, a.bottom - a.top);

    // run name and legend
    ctx.fillStyle = '#000';
    ctx.font = '18px "DejaVu Serif"';
    ctx.textBaseline = 'middle';
    ctx.textAlign = 'left';
    ctx.fillText(opts.name, a.left + 46, 36);
    const rows = [89, 106, 124];
    legendNames.forEach((t, i) => ctx.fillText(t, a.left + 64, rows[i]));
    const mx = a.left + 56;
    ctx.beginPath(); ctx.arc(mx, rows[0], 1.4, 0, 2 * Math.PI); ctx.fill();
    ctx.drawImage(haloLegend, mx - haloLegend.width / 2, rows[1] - haloLegend.height / 2);
    ctx.strokeStyle = '#ff0000'; ctx.lineWidth = 1.1;
    line(mx - 1.8, rows[2] - 1.8, mx + 1.8, rows[2] + 1.8);
    line(mx - 1.8, rows[2] + 1.8, mx + 1.8, rows[2] - 1.8);

    // axis titles
    ctx.textAlign = 'center';
    ctx.fillText('Time [yrs]', 317, 535);
    ctx.save();
    ctx.translate(20, (a.top + a.bottom) / 2);
    ctx.rotate(-Math.PI / 2);
    const main = 'Chirp Mass [M', close = ']';
    ctx.font = '18px "DejaVu Serif"';
    const w1 = ctx.measureText(main).width, w3 = ctx.measureText(close).width;
    ctx.font = '12px "DejaVu Serif"';
    const w2 = ctx.measureText('⊙').width;
    const sx = -(w1 + w2 + w3) / 2;
    ctx.textAlign = 'left';
    ctx.font = '18px "DejaVu Serif"';
    ctx.fillText(main, sx, 0);
    ctx.font = '12px "DejaVu Serif"';
    ctx.fillText('⊙', sx + w1, 5);
    ctx.font = '18px "DejaVu Serif"';
    ctx.fillText(close, sx + w1 + w2, 0);
    ctx.restore();
    ctx.restore();
  }
};

function makeChart(id, name, core, halo, ejected) {
  return new Chart(document.getElementById(id), {
    type: 'scatter',
    data: {
      datasets: [
        { label: 'In Halo', data: toPoints(halo), pointStyle: haloMark, pointRadius: 3, order: 0 },
        { label: 'Ejected', data: toPoints(ejected), pointStyle: 'crossRot', pointRadius: 3.6,
          borderColor: '#ff0000', backgroundColor: '#ff0000', borderWidth: 1.4, order: 1 },
        { label: 'In Core', data: toPoints(core), pointStyle: 'circle', pointRadius: 2.1,
          backgroundColor: '#000', borderWidth: 0, order: 2 }
      ]
    },
    options: {
      responsive: false,
      animation: false,
      devicePixelRatio: 1,
      events: [],
      layout: { padding: { top: 5, right: 16, left: 0, bottom: 0 } },
      plugins: { legend: { display: false }, tooltip: { enabled: false }, frame: { name: name } },
      scales: {
        x: {
          type: 'logarithmic', min: 1e4, max: 1.3e10,
          grid: { display: false, drawTicks: false }, border: { display: false },
          afterBuildTicks: s => { s.ticks = xTickValues.map(v => ({ value: v })); },
          afterFit: s => { s.height = 58; s.paddingLeft = 0; s.paddingRight = 0; },
          ticks: { autoSkip: false, maxRotation: 0, padding: 9, font: { size: 18 },
                   callback: (v, i) => xTickLabels[i] }
        },
        y: {
          min: 0, max: 145,
          grid: { display: false, drawTicks: false }, border: { display: false },
          afterBuildTicks: s => { s.ticks = yTickValues.map(v => ({ value: v })); },
          afterFit: s => { s.width = 69; s.paddingTop = 0; s.paddingBottom = 0; },
          ticks: { padding: 10, font: { size: 18 }, callback: v => String(v) }
        }
      }
    },
    plugins: [framePlugin]
  });
}

makeChart('left', 'v2e5k11', leftCore, leftHalo, leftEjected);
makeChart('right', 'v22e6e5k9', rightCore, rightHalo, rightEjected);
</script>
</body>
</html>
